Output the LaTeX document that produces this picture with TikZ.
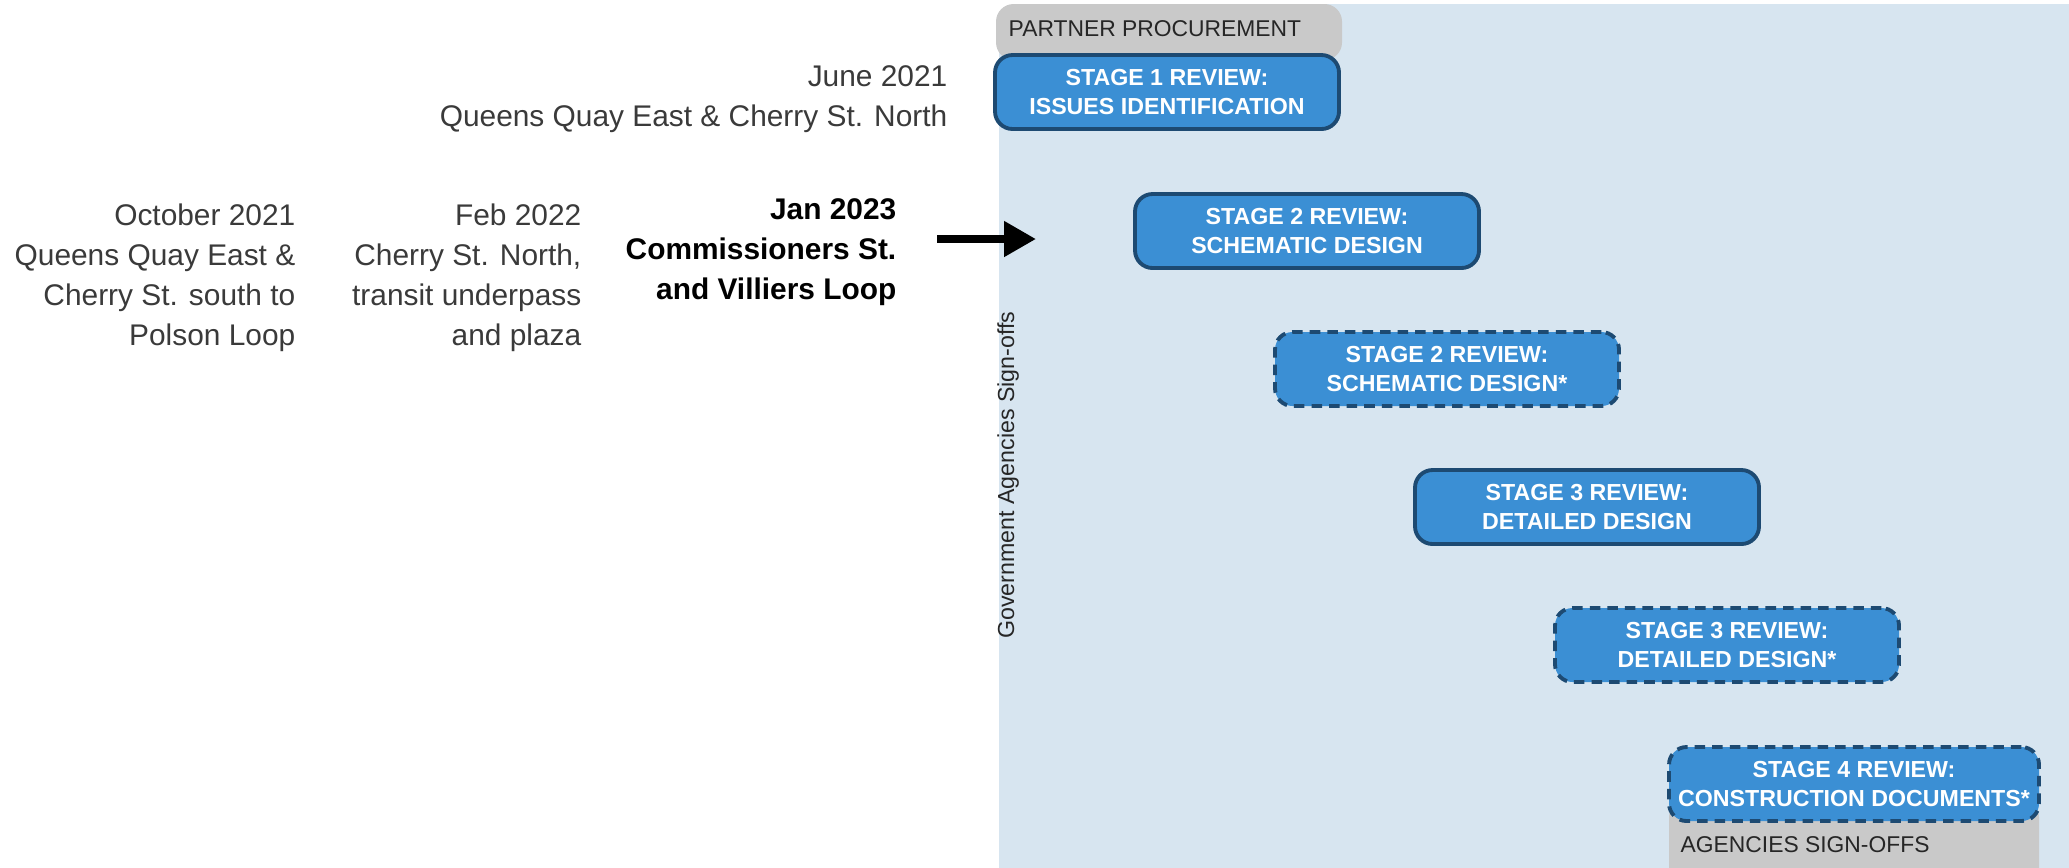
\documentclass[tikz,border=0pt]{standalone}
\usepackage{fontspec}
\setmainfont{Liberation Sans}
\usepackage{xcolor}
\usetikzlibrary{positioning,arrows.meta}
\definecolor{panelblue}{HTML}{D7E5F0}
\definecolor{stagefill}{HTML}{3B8FD4}
\definecolor{stageline}{HTML}{1D4A72}
\definecolor{tabgray}{HTML}{C9C9C9}
\definecolor{txtgray}{HTML}{3A3A3A}

\begin{document}
\begin{tikzpicture}[
  x=0.1mm, y=-0.1mm,
  stagebox/.style={draw=stageline, fill=stagefill, line width=1.1pt, rounded corners=5pt,
    minimum width=3.44cm, minimum height=0.74cm, inner sep=0pt, align=center,
    text=white, font=\fontsize{6.6}{8.2}\selectfont\bfseries},
  stagedash/.style={stagebox, dashed, dash pattern=on 3pt off 2pt},
  tab/.style={fill=tabgray, rounded corners=5pt, font=\fontsize{6.5}{8}\selectfont, text=black!85},
  datelab/.style={anchor=east, align=right, inner sep=0pt, text=txtgray,
    font=\fontsize{8.5}{11.4}\selectfont},
  bigarr/.style={-{Triangle[length=3.2mm, width=3.4mm]}, line width=2.2pt},
]
\useasboundingbox (0,0) rectangle (2069,867);
\fill[panelblue, rounded corners=12pt] (999,4) rectangle (2120,920);

\fill[tab] (996,4) rectangle (1342,60);
\node[tab, anchor=west, inner sep=0pt] (ptab) at (1008,29) {PARTNER PROCUREMENT};
\fill[tab] (1669,800) rectangle (2039,920);
\node[tab, anchor=west, inner sep=0pt] (atab) at (1680,845) {AGENCIES SIGN-OFFS};

\node[stagebox] (s1) at (1167,92) {STAGE 1 REVIEW:\\ISSUES IDENTIFICATION};
\node[stagebox] (s2) at (1307,231) {STAGE 2 REVIEW:\\SCHEMATIC DESIGN};
\node[stagedash] (s2b) at (1447,369) {STAGE 2 REVIEW:\\SCHEMATIC DESIGN*};
\node[stagebox] (s3) at (1587,507) {STAGE 3 REVIEW:\\DETAILED DESIGN};
\node[stagedash] (s3b) at (1727,645) {STAGE 3 REVIEW:\\DETAILED DESIGN*};
\node[stagedash, minimum width=3.7cm] (s4) at (1854,784) {STAGE 4 REVIEW:\\CONSTRUCTION DOCUMENTS*};

\node[rotate=90, font=\fontsize{6.6}{8}\selectfont, text=black!85] (gov) at (1008,475) {Government Agencies Sign-offs};

\node[datelab] (jun) at (948,99) {June 2021\\Queens Quay East \& Cherry St. North};
\node[datelab] (oct) at (296,278) {October 2021\\Queens Quay East \&\\Cherry St. south to\\Polson Loop};
\node[datelab] (feb) at (582,278) {Feb 2022\\Cherry St. North,\\transit underpass\\and plaza};
\node[datelab, text=black, font=\fontsize{8.5}{11.4}\selectfont\bfseries] (jan) at (897,252) {Jan 2023\\Commissioners St.\\and Villiers Loop};

\coordinate (arrstart) at (937,239);
\coordinate (arrtip) at (1036,239);
\draw[bigarr] (arrstart) -- (arrtip);
\end{tikzpicture}
\end{document}
